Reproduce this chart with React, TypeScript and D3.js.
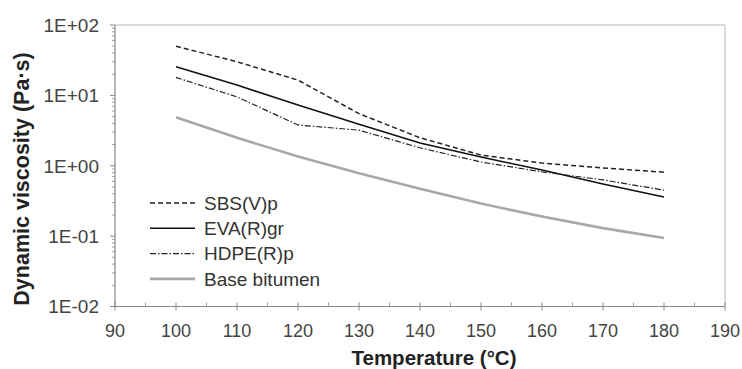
import React from "react";
import * as d3 from "d3";

const temps = [100, 110, 120, 130, 140, 150, 160, 170, 180];
const sbs = [50, 30, 16.5, 5.5, 2.5, 1.42, 1.09, 0.93, 0.81];
const eva = [25.5, 14.0, 7.3, 3.9, 2.1, 1.33, 0.87, 0.55, 0.36];
const hdpe = [18, 9.5, 3.8, 3.2, 1.8, 1.13, 0.82, 0.63, 0.45];
const base = [4.9, 2.5, 1.35, 0.78, 0.47, 0.29, 0.19, 0.13, 0.094];
const seriesNames = ["SBS(V)p", "EVA(R)gr", "HDPE(R)p", "Base bitumen"];
const xTicks = [90, 100, 110, 120, 130, 140, 150, 160, 170, 180, 190];
const yTicks = [0.01, 0.1, 1, 10, 100];
const yTickLabels = ["1E-02", "1E-01", "1E+00", "1E+01", "1E+02"];

const W = 742, H = 369;
const L = 115, R = 725, T = 25, B = 306.5;

export default function App() {
  const x = d3.scaleLinear().domain([90, 190]).range([L, R]);
  const y = d3.scaleLog().domain([0.01, 100]).range([B, T]);
  const line = d3.line<number>().x((_, i) => x(temps[i])).y((d) => y(d));

  const styles = [
    { stroke: "#222", width: 1.5, dash: "5,3" },
    { stroke: "#111", width: 1.6, dash: "" },
    { stroke: "#222", width: 1.2, dash: "6,2,1.5,2" },
    { stroke: "#a8a8a8", width: 2.6, dash: "" },
  ];
  const data = [sbs, eva, hdpe, base];

  const minorY: number[] = [];
  for (let e = -2; e < 2; e++) for (let m = 2; m <= 9; m++) minorY.push(m * Math.pow(10, e));
  const minorX = d3.range(95, 190, 10);

  const font = "Arial, 'Liberation Sans', sans-serif";
  const axisColor = "#888";

  return (
    <svg width={W} height={H} style={{ position: "absolute", left: 0, top: 0 }} fontFamily={font}>
      <rect width={W} height={H} fill="#fff" />
      {/* frame */}
      <line x1={L} x2={R} y1={T} y2={T} stroke="#cfcfcf" strokeWidth={1.5} />
      <line x1={R} x2={R} y1={T} y2={B} stroke="#cfcfcf" strokeWidth={1.5} />
      <line x1={L} x2={L} y1={T} y2={B} stroke={axisColor} strokeWidth={1.2} />
      <line x1={L} x2={R} y1={B} y2={B} stroke={axisColor} strokeWidth={1.2} />
      {/* y ticks */}
      {yTicks.map((t, i) => (
        <g key={"y" + i}>
          <line x1={L - 5} x2={L} y1={y(t)} y2={y(t)} stroke={axisColor} strokeWidth={1} />
          <text x={99} y={y(t)} dy="0.36em" textAnchor="end" fontSize={19} fill="#444">
            {yTickLabels[i]}
          </text>
        </g>
      ))}
      {minorY.map((t, i) => (
        <line key={"my" + i} x1={L - 3} x2={L} y1={y(t)} y2={y(t)} stroke={axisColor} strokeWidth={0.8} />
      ))}
      {/* x ticks */}
      {xTicks.map((t, i) => (
        <g key={"x" + i}>
          <line x1={x(t)} x2={x(t)} y1={B - 4} y2={B + 4} stroke={axisColor} strokeWidth={1} />
          <text x={x(t)} y={B + 30} textAnchor="middle" fontSize={18} fill="#444">
            {t}
          </text>
        </g>
      ))}
      {minorX.map((t, i) => (
        <line key={"mx" + i} x1={x(t)} x2={x(t)} y1={B - 4} y2={B} stroke={axisColor} strokeWidth={0.8} />
      ))}
      {/* series */}
      {data.map((d, i) => (
        <path
          key={"s" + i}
          d={line(d) || ""}
          fill="none"
          stroke={styles[i].stroke}
          strokeWidth={styles[i].width}
          strokeDasharray={styles[i].dash}
        />
      ))}
      {/* legend */}
      {seriesNames.map((n, i) => {
        const ly = 203 + i * 25.3;
        return (
          <g key={"l" + i}>
            <line
              x1={150}
              x2={195}
              y1={ly}
              y2={ly}
              stroke={styles[i].stroke}
              strokeWidth={styles[i].width}
              strokeDasharray={styles[i].dash}
            />
            <text x={204} y={ly} dy="0.36em" fontSize={19} fill="#333">
              {n}
            </text>
          </g>
        );
      })}
      {/* axis titles */}
      <text x={434} y={365} textAnchor="middle" fontSize={20.5} fontWeight="bold" fill="#222">
        Temperature (°C)
      </text>
      <text
        transform={`translate(29,179) rotate(-90)`}
        textAnchor="middle"
        fontSize={21.5}
        fontWeight="bold"
        fill="#222"
      >
        Dynamic viscosity (Pa·s)
      </text>
    </svg>
  );
}
